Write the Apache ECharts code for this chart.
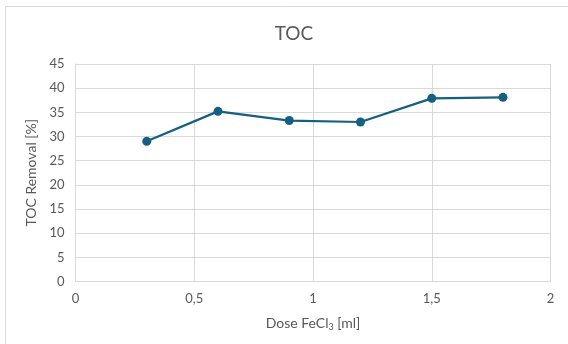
<!DOCTYPE html>
<html>
<head>
<meta charset="utf-8">
<script src="https://cdn.jsdelivr.net/npm/echarts@6/dist/echarts.min.js"></script>
<style>
  html, body { margin: 0; padding: 0; background: #ffffff; }
  #chart { width: 568px; height: 344px; }
</style>
</head>
<body>
<div id="chart"></div>
<script>
// Dose of FeCl3 (ml) and the resulting TOC removal (%)
const doses = [0.3, 0.6, 0.9, 1.2, 1.5, 1.8];
const tocRemoval = [29.0, 35.2, 33.3, 33.0, 37.9, 38.1];

const xTicks = [0, 0.5, 1, 1.5, 2];
const yTicks = [0, 5, 10, 15, 20, 25, 30, 35, 40, 45];

const textColor = '#595959';
const gridColor = '#d9d9d9';
const font = 'Lato, "Open Sans", sans-serif';

const chart = echarts.init(document.getElementById('chart'));

chart.setOption({
  animation: false,
  backgroundColor: '#ffffff',
  graphic: [{
    type: 'rect',
    shape: { x: 5.5, y: 6.5, width: 700, height: 500 },
    style: { fill: 'none', stroke: gridColor, lineWidth: 1 },
    silent: true
  }],
  title: {
    text: 'TOC',
    left: 289,
    textAlign: 'center',
    top: 19,
    textStyle: { color: textColor, fontFamily: font, fontSize: 19, fontWeight: 'normal' }
  },
  grid: { left: 75.5, right: 17.5, top: 64, bottom: 62.5, containLabel: false },
  xAxis: {
    type: 'value',
    min: xTicks[0],
    max: xTicks[xTicks.length - 1],
    interval: 0.5,
    name: '{n|Dose FeCl}{s|3}{n| [ml]}',
    nameLocation: 'middle',
    nameGap: 33,
    nameTextStyle: {
      rich: {
        n: { color: textColor, fontFamily: font, fontSize: 14 },
        s: { color: textColor, fontFamily: font, fontSize: 9, padding: [8, 0, 0, 0] }
      }
    },
    axisLine: { show: true, lineStyle: { color: gridColor, width: 1 } },
    axisTick: { show: false },
    splitLine: { show: true, lineStyle: { color: gridColor, width: 1 } },
    axisLabel: {
      color: textColor, fontFamily: font, fontSize: 13, margin: 11,
      formatter: v => String(v).replace('.', ',')
    }
  },
  yAxis: {
    type: 'value',
    min: yTicks[0],
    max: yTicks[yTicks.length - 1],
    interval: 5,
    name: 'TOC Removal [%]',
    nameLocation: 'middle',
    nameGap: 30,
    nameTextStyle: { color: textColor, fontFamily: font, fontSize: 14 },
    axisLine: { show: true, lineStyle: { color: gridColor, width: 1 } },
    axisTick: { show: false },
    splitLine: { show: true, lineStyle: { color: gridColor, width: 1 } },
    axisLabel: { color: textColor, fontFamily: font, fontSize: 13, margin: 11 }
  },
  series: [{
    type: 'line',
    data: doses.map((d, i) => [d, tocRemoval[i]]),
    symbol: 'circle',
    symbolSize: 9,
    lineStyle: { color: '#156082', width: 2.25 },
    itemStyle: { color: '#156082', borderWidth: 0 }
  }]
});
</script>
</body>
</html>
